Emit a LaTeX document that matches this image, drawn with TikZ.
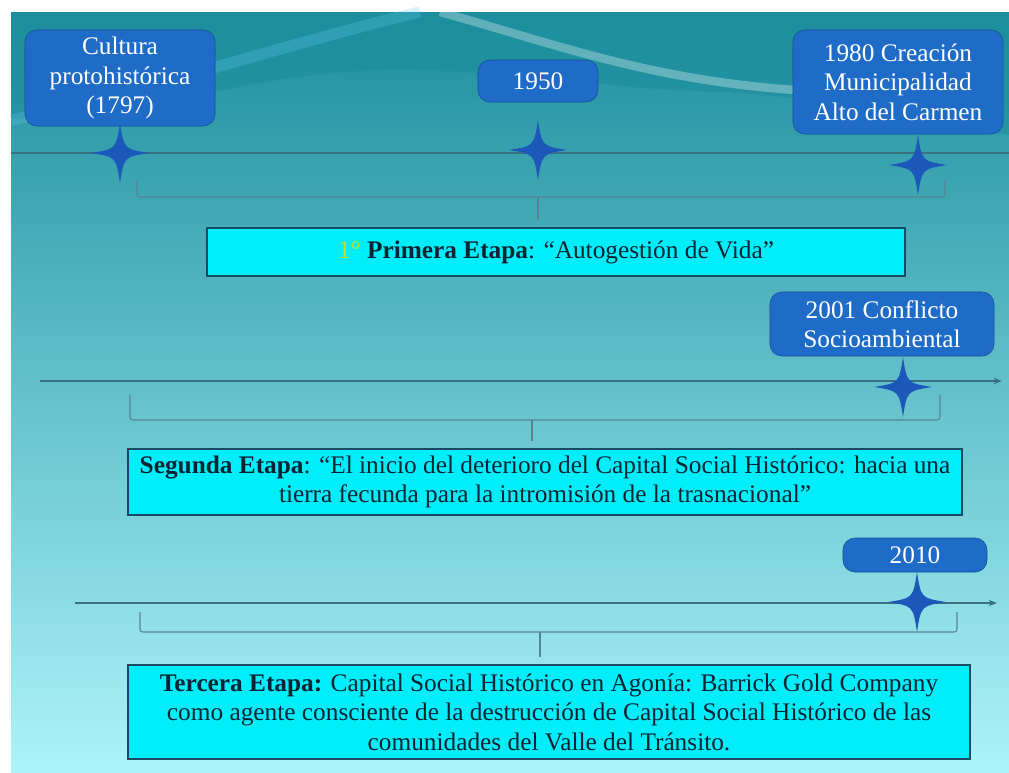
\documentclass[tikz,border=0pt]{standalone}
\usepackage{fontspec}
\setmainfont{Liberation Serif}
\usetikzlibrary{arrows.meta}
\definecolor{fondoalto}{RGB}{28,142,158}
\definecolor{fondomedio}{RGB}{120,200,206}
\definecolor{fondobajo}{RGB}{172,244,248}
\definecolor{azulcaja}{RGB}{30,108,200}
\definecolor{bordecaja}{RGB}{22,78,150}
\definecolor{cianetapa}{RGB}{0,238,250}
\definecolor{bordeetapa}{RGB}{25,72,98}
\definecolor{azulestrella}{RGB}{28,88,185}
\definecolor{linea}{RGB}{58,112,132}
\definecolor{amarillo}{RGB}{190,225,50}
\definecolor{textoetapa}{RGB}{10,35,50}

\begin{document}
\begin{tikzpicture}[x=0.025cm,y=-0.025cm,
  fecha/.style={draw=bordecaja,fill=azulcaja,rounded corners=0.3cm,text=white,align=center,inner sep=2pt,font=\fontsize{18}{21}\selectfont},
  etapa/.style={draw=bordeetapa,line width=1.3pt,fill=cianetapa,align=center,text=textoetapa,inner sep=2pt,font=\fontsize{18}{21}\selectfont},
  eje/.style={linea,line width=1.2pt},
  llave/.style={linea!85,line width=0.8pt,rounded corners=2pt},
  estrella/.pic={\fill[azulestrella] (0,-30) .. controls (4,-4) .. (29,0) .. controls (4,4) .. (0,30) .. controls (-4,4) .. (-29,0) .. controls (-4,-4) .. cycle;}]
\useasboundingbox (0,0) rectangle (1009,772);
\fill[white] (0,0) rectangle (1009,772);
\shade[top color=fondoalto,middle color=fondomedio,bottom color=fondobajo] (11,12) rectangle (1009,772);
\fill[fondoalto,opacity=0.6] (11,12) -- (1009,12) -- (1009,135) .. controls (900,120) and (820,95) .. (720,92) .. controls (560,88) and (420,50) .. (250,85) .. controls (150,105) and (70,120) .. (11,118) -- cycle;
\draw[white,opacity=0.3,line width=6pt] (440,12) .. controls (560,45) and (660,85) .. (830,92);
\draw[cyan!60,opacity=0.25,line width=8pt] (11,120) .. controls (150,90) and (300,40) .. (420,12);
\draw[eje] (11,153) -- (1009,153);
\draw[eje,-{Stealth[length=6pt]}] (40,381) -- (1002,381);
\draw[eje,-{Stealth[length=6pt]}] (75,603) -- (997,603);
\node[fecha,minimum width=4.75cm,minimum height=2.4cm] (cultura) at (120,78) {Cultura\\protohistórica\\(1797)};
\node[fecha,minimum width=3cm,minimum height=1.05cm] (f1950) at (538,81) {1950};
\node[fecha,minimum width=5.25cm,minimum height=2.6cm] (f1980) at (898,82) {1980 Creación\\Municipalidad\\Alto del Carmen};
\node[fecha,minimum width=5.6cm,minimum height=1.6cm] (f2001) at (882,324) {2001 Conflicto\\Socioambiental};
\node[fecha,minimum width=3.6cm,minimum height=0.85cm] (f2010) at (915,555) {2010};
\pic at (120,153) {estrella};
\pic at (538,150) {estrella};
\pic at (918,165) {estrella};
\pic at (903,387) {estrella};
\pic at (917,602) {estrella};
\node[etapa,minimum width=17.45cm,minimum height=1.2cm] (etapa1) at (556,252) {\textcolor{amarillo}{1°} \textbf{Primera Etapa}: “Autogestión de Vida”};
\node[etapa,minimum width=20.85cm,minimum height=1.65cm] (etapa2) at (545,482) {\textbf{Segunda Etapa}: “El inicio del deterioro del Capital Social Histórico: hacia una\\tierra fecunda para la intromisión de la trasnacional”};
\node[etapa,minimum width=21.05cm,minimum height=2.35cm] (etapa3) at (549,712) {\textbf{Tercera Etapa:} Capital Social Histórico en Agonía: Barrick Gold Company\\como agente consciente de la destrucción de Capital Social Histórico de las\\comunidades del Valle del Tránsito.};
\coordinate (llave1) at (538,197);
\coordinate (llave2) at (532,420);
\coordinate (llave3) at (540,632);
\draw[llave] (137,180) -- (137,197) -- (945,197) -- (945,180);
\draw[llave] (130,395) -- (130,420) -- (940,420) -- (940,395);
\draw[llave] (140,612) -- (140,632) -- (957,632) -- (957,612);
\draw[llave,shorten >=5pt] (llave1) -- (llave1 |- etapa1.north);
\draw[llave,shorten >=5pt] (llave2) -- (llave2 |- etapa2.north);
\draw[llave,shorten >=5pt] (llave3) -- (llave3 |- etapa3.north);
\end{tikzpicture}
\end{document}
